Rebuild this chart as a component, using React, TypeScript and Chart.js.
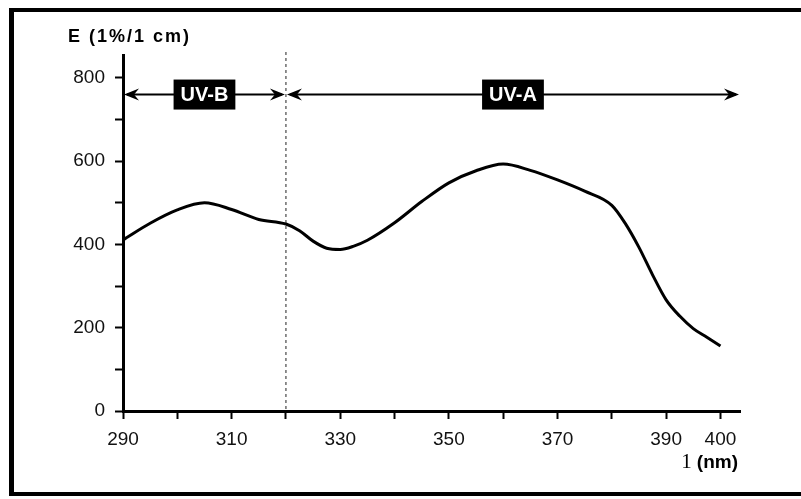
import React, { useEffect, useRef } from "react";
import { Chart, registerables } from "chart.js";

Chart.register(...registerables);

// ---- data ----
const wavelengths = [290, 295, 300, 305, 310, 315, 320, 322.5, 325, 327.5, 330, 332.5, 335, 340, 345, 350, 355, 360, 365, 370, 375, 380, 382.5, 385, 387.5, 390, 392.5, 395, 397.5, 400];
const extinction = [411, 451, 483, 500, 484, 460, 449, 433, 408, 391, 388, 396, 410, 452, 503, 548, 577, 593, 578, 555, 528, 494, 450, 393, 327, 267, 228, 198, 177, 156];

const xTicks = [290, 300, 310, 320, 330, 340, 350, 360, 370, 380, 390, 400];
const xTickLabels = [290, 310, 330, 350, 370, 390, 400];
const yTicks = [0, 100, 200, 300, 400, 500, 600, 700, 800];
const yTickLabels = [0, 200, 400, 600, 800];

const bandNames = ["UV-B", "UV-A"];
const bandStarts = [290, 320];
const bandEnds = [320, 400];
const bandBoundary = 320;

const yTitle = "E (1%/1 cm)";
const xTitleSymbol = "1";
const xTitleUnit = "(nm)";

const SANS = "'Liberation Sans', Arial, Helvetica, sans-serif";

function drawArrowHead(ctx: CanvasRenderingContext2D, x: number, y: number, dir: number) {
  ctx.beginPath();
  ctx.moveTo(x, y);
  ctx.lineTo(x - dir * 15, y - 6);
  ctx.lineTo(x - dir * 10, y);
  ctx.lineTo(x - dir * 15, y + 6);
  ctx.closePath();
  ctx.fill();
}

const overlayPlugin = {
  id: "uvOverlay",
  afterDraw(chart: any) {
    const ctx: CanvasRenderingContext2D = chart.ctx;
    const { left, right, top, bottom } = chart.chartArea;
    const xs = chart.scales.x;
    const ys = chart.scales.y;
    ctx.save();

    // page frame
    ctx.fillStyle = "#000";
    ctx.fillRect(9, 8, 5, 488);
    ctx.fillRect(9, 8, 792, 4);
    ctx.fillRect(9, 492, 792, 4);

    // dashed boundary line
    const bx = xs.getPixelForValue(bandBoundary);
    ctx.strokeStyle = "#222";
    ctx.lineWidth = 1;
    ctx.setLineDash([3, 3]);
    ctx.beginPath();
    ctx.moveTo(bx, top - 3);
    ctx.lineTo(bx, bottom);
    ctx.stroke();
    ctx.setLineDash([]);

    // band arrows
    const ay = ys.getPixelForValue(760);
    for (let i = 0; i < bandNames.length; i++) {
      const x0 = xs.getPixelForValue(bandStarts[i]);
      const x1 = i === bandNames.length - 1 ? right : xs.getPixelForValue(bandEnds[i]);
      ctx.strokeStyle = "#000";
      ctx.fillStyle = "#000";
      ctx.lineWidth = 2;
      ctx.beginPath();
      ctx.moveTo(x0 + 4, ay);
      ctx.lineTo(x1 - 4, ay);
      ctx.stroke();
      drawArrowHead(ctx, x0 + 1, ay, -1);
      drawArrowHead(ctx, x1 - 1, ay, 1);

      const cx = (x0 + x1) / 2;
      ctx.font = `bold 20px ${SANS}`;
      const tw = ctx.measureText(bandNames[i]).width;
      const bw = tw + 14;
      const bh = 30;
      ctx.fillRect(cx - bw / 2, ay - bh / 2, bw, bh);
      ctx.fillStyle = "#fff";
      ctx.textAlign = "center";
      ctx.textBaseline = "middle";
      ctx.fillText(bandNames[i], cx, ay + 1);
    }

    // y axis title
    ctx.fillStyle = "#000";
    ctx.textAlign = "left";
    ctx.textBaseline = "alphabetic";
    ctx.font = `bold 18px ${SANS}`;
    (ctx as any).letterSpacing = "2px";
    ctx.fillText(yTitle, left - 55, top - 13);
    (ctx as any).letterSpacing = "0px";

    // x axis title
    ctx.textAlign = "right";
    ctx.font = `bold 19px ${SANS}`;
    const unitW = ctx.measureText(xTitleUnit).width;
    const titleRight = right - 2;
    ctx.fillText(xTitleUnit, titleRight, bottom + 57);
    ctx.font = `21px 'Liberation Serif', 'DejaVu Serif', serif`;
    ctx.fillText(xTitleSymbol, titleRight - unitW - 5, bottom + 57);

    ctx.restore();
  },
};

export default function App() {
  const canvasRef = useRef<HTMLCanvasElement | null>(null);

  useEffect(() => {
    document.body.style.margin = "0";
    const canvas = canvasRef.current;
    if (!canvas) return;
    const chart = new Chart(canvas, {
      type: "line",
      data: {
        datasets: [
          {
            data: wavelengths.map((w, i) => ({ x: w, y: extinction[i] })),
            borderColor: "#000",
            borderWidth: 3,
            pointRadius: 0,
            fill: false,
            cubicInterpolationMode: "monotone",
          },
        ],
      },
      options: {
        responsive: false,
        animation: false,
        events: [],
        layout: { padding: { left: 0, top: 55, right: 61, bottom: 0 } },
        plugins: {
          legend: { display: false },
          tooltip: { enabled: false },
          title: { display: false },
        },
        scales: {
          x: {
            type: "linear",
            min: 290,
            max: 403.6,
            afterBuildTicks: (scale: any) => {
              scale.ticks = xTicks.map((v) => ({ value: v }));
            },
            afterFit: (scale: any) => {
              scale.height = 88;
            },
            ticks: {
              autoSkip: false,
              maxRotation: 0,
              padding: 9,
              color: "#111",
              font: { family: SANS, size: 19 },
              callback: (v: any) => (xTickLabels.includes(Number(v)) ? String(v) : ""),
            },
            grid: {
              drawOnChartArea: false,
              drawTicks: true,
              tickLength: 8,
              tickWidth: 2,
              tickColor: "#000",
            },
            border: { display: true, color: "#000", width: 3 },
          },
          y: {
            type: "linear",
            min: 0,
            max: 855,
            afterBuildTicks: (scale: any) => {
              scale.ticks = yTicks.map((v) => ({ value: v }));
            },
            afterFit: (scale: any) => {
              scale.width = 123;
            },
            ticks: {
              autoSkip: false,
              padding: 10,
              color: "#111",
              font: { family: SANS, size: 19 },
              callback: (v: any) => (yTickLabels.includes(Number(v)) ? String(v) : ""),
            },
            grid: {
              drawOnChartArea: false,
              drawTicks: true,
              tickLength: 8,
              tickWidth: 2,
              tickColor: "#000",
            },
            border: { display: true, color: "#000", width: 3 },
          },
        },
      },
      plugins: [overlayPlugin],
    });
    return () => chart.destroy();
  }, []);

  return (
    <div style={{ position: "absolute", left: 0, top: 0, width: 801, height: 499, background: "#fff" }}>
      <canvas ref={canvasRef} width={801} height={499} />
    </div>
  );
}
